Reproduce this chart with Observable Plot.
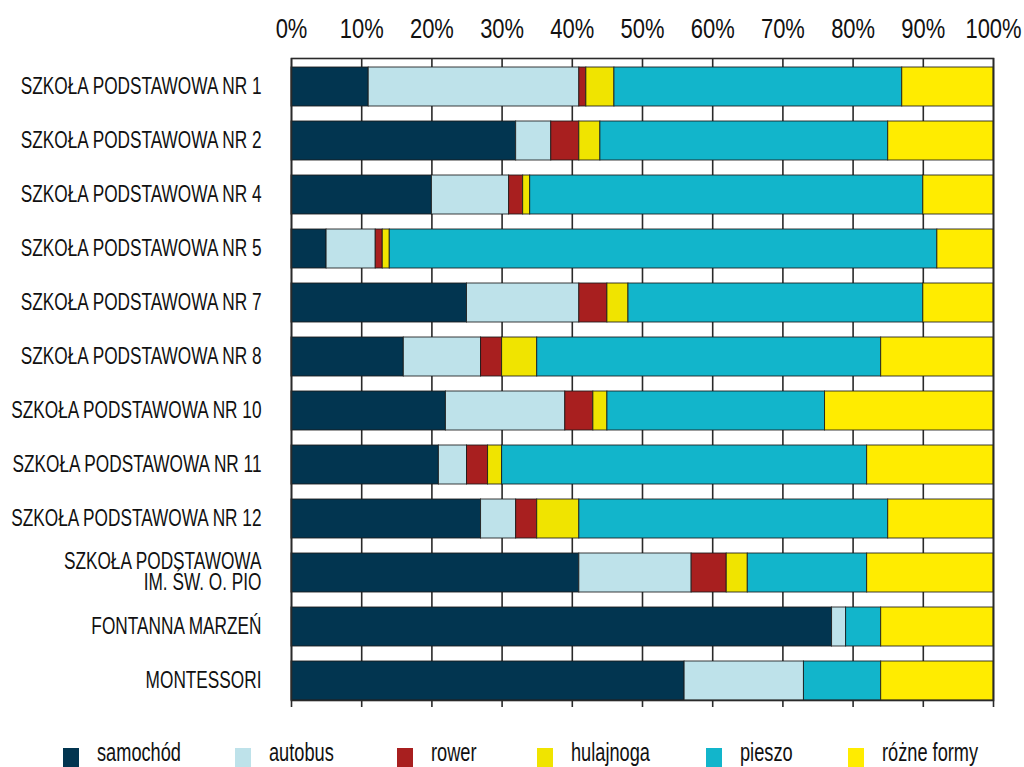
<!DOCTYPE html>
<html>
<head>
<meta charset="utf-8">
<script src="https://cdn.jsdelivr.net/npm/d3@7"></script>
<script src="https://cdn.jsdelivr.net/npm/@observablehq/plot@0.6"></script>
<style>
  html, body { margin: 0; padding: 0; background: #fff; }
  body { position: relative; width: 1024px; height: 767px; overflow: hidden; font-family: "Liberation Sans", Arial, sans-serif; }
  .sw { position: absolute; top: 748px; width: 16px; height: 19px; }
  .lt { position: absolute; top: 739px; font-size: 26px; line-height: 26px; color: #111; white-space: nowrap; transform: scaleX(0.7); transform-origin: 0 0; }
</style>
</head>
<body>
<div id="chart"></div>
<div id="legend"></div>
<script>
const schools = [
  "SZKOŁA PODSTAWOWA NR 1",
  "SZKOŁA PODSTAWOWA NR 2",
  "SZKOŁA PODSTAWOWA NR 4",
  "SZKOŁA PODSTAWOWA NR 5",
  "SZKOŁA PODSTAWOWA NR 7",
  "SZKOŁA PODSTAWOWA NR 8",
  "SZKOŁA PODSTAWOWA NR 10",
  "SZKOŁA PODSTAWOWA NR 11",
  "SZKOŁA PODSTAWOWA NR 12",
  "SZKOŁA PODSTAWOWA\nIM. ŚW. O. PIO",
  "FONTANNA MARZEŃ",
  "MONTESSORI"
];
const modes = ["samochód", "autobus", "rower", "hulajnoga", "pieszo", "różne formy"];
const colors = ["#023550", "#bee2ea", "#a81f1f", "#f0e400", "#12b5cb", "#ffec00"];

const samochod   = [11, 32, 20,  5, 25, 16, 22, 21, 27, 41, 77, 56];
const autobus    = [30,  5, 11,  7, 16, 11, 17,  4,  5, 16,  2, 17];
const rower      = [ 1,  4,  2,  1,  4,  3,  4,  3,  3,  5,  0,  0];
const hulajnoga  = [ 4,  3,  1,  1,  3,  5,  2,  2,  6,  3,  0,  0];
const pieszo     = [41, 41, 56, 78, 42, 49, 31, 52, 44, 17,  5, 11];
const rozne      = [13, 15, 10,  8, 10, 16, 24, 18, 15, 18, 16, 16];
const xTicks = [0, 10, 20, 30, 40, 50, 60, 70, 80, 90, 100];

const series = [samochod, autobus, rower, hulajnoga, pieszo, rozne];
const data = [];
schools.forEach((s, i) => modes.forEach((m, j) => data.push({school: s, mode: m, value: series[j][i]})));

const chart = Plot.plot({
  width: 1024,
  height: 720,
  marginLeft: 291,
  marginRight: 31,
  marginTop: 66,
  marginBottom: 20,
  style: {fontFamily: "'Liberation Sans', Arial, sans-serif", color: "#111", background: "#fff"},
  x: {domain: [0, 100], axis: null},
  y: {domain: schools, paddingInner: 0.287, paddingOuter: 0, axis: null},
  color: {domain: modes, range: colors},
  marks: [
    Plot.ruleX(xTicks, {x: d => d, stroke: "#2a2a2a", strokeWidth: 1.6, insetTop: -8}),
    Plot.barX(data, Plot.stackX({x: "value", y: "school", fill: "mode", order: modes, stroke: "#1a1a1a", strokeOpacity: 0.85, strokeWidth: 1})),
    Plot.frame({stroke: "#2a2a2a", strokeWidth: 1.6, insetTop: -8}),
    Plot.axisX({anchor: "top", ticks: xTicks, tickSize: 0, tickPadding: 29, tickFormat: d => d + "%", fontSize: 28.5, label: null}),
    Plot.axisX({anchor: "bottom", ticks: xTicks, tickSize: 7, tickFormat: () => "", stroke: "#2a2a2a", strokeWidth: 1.6, label: null}),
    Plot.axisY({ticks: schools, tickSize: 0, tickPadding: 30, fontSize: 23, lineHeight: 0.9, label: null})
  ]
});
document.getElementById("chart").appendChild(chart);

// condensed look: squeeze text horizontally around its anchor
d3.select(chart).selectAll('g[aria-label="y-axis tick label"] text').attr("transform", function() {
  return (this.getAttribute("transform") || "") + " scale(0.75,1)";
});
d3.select(chart).selectAll('g[aria-label="x-axis tick label"] text').attr("transform", function() {
  return (this.getAttribute("transform") || "") + " scale(0.77,1)";
});

const legend = document.getElementById("legend");
const swatchX = [63, 235, 397, 537, 706, 848];
modes.forEach((m, i) => {
  const sw = document.createElement("div");
  sw.className = "sw";
  sw.style.left = swatchX[i] + "px";
  sw.style.background = colors[i];
  legend.appendChild(sw);
  const t = document.createElement("div");
  t.className = "lt";
  t.style.left = (swatchX[i] + 34) + "px";
  t.textContent = m;
  legend.appendChild(t);
});
</script>
</body>
</html>
